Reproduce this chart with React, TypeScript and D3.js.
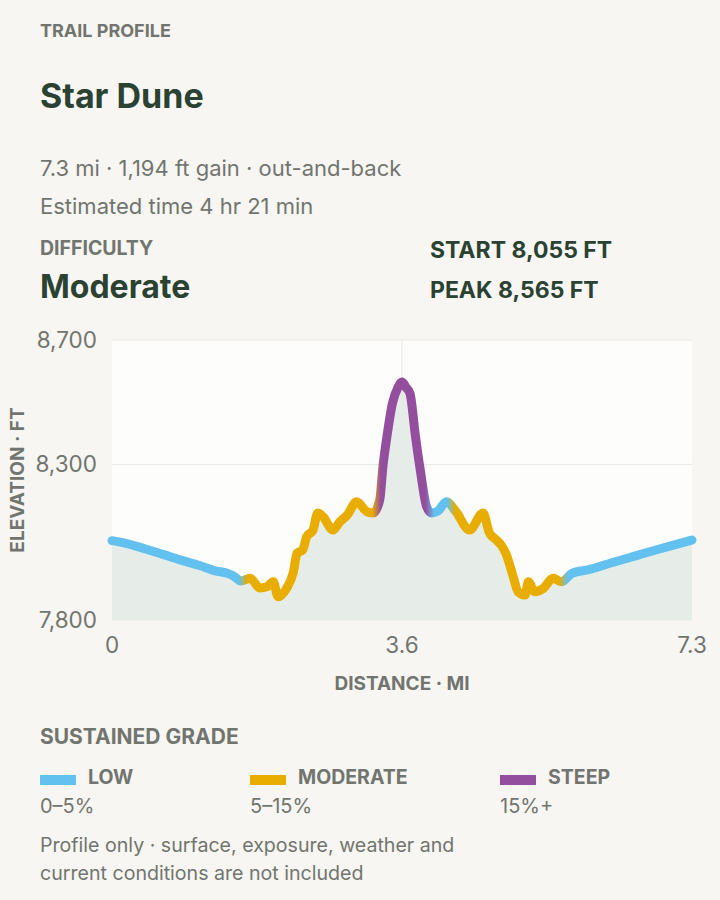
import React from "react";
import * as d3 from "d3";

// ---- data ----
const distanceMi = [
  0.0, 0.15, 0.4, 0.65, 0.9, 1.1, 1.3, 1.45, 1.55, 1.62,
  1.74, 1.86, 1.95, 2.03, 2.09, 2.2, 2.28, 2.33, 2.4, 2.45,
  2.53, 2.59, 2.66, 2.78, 2.87, 2.96, 3.08, 3.21, 3.29, 3.37,
  3.41, 3.46, 3.53, 3.6, 3.65, 3.7, 3.75, 3.82, 3.88, 3.96,
  4.02, 4.1, 4.21, 4.33, 4.5, 4.67, 4.75, 4.84, 4.9, 4.96, 5.05,
  5.11, 5.2, 5.24, 5.32, 5.43, 5.55, 5.66, 5.79, 6.0, 6.3,
  6.6, 6.9, 7.1, 7.3,
];
const elevationFt = [
  8055, 8048, 8030, 8010, 7990, 7975, 7958, 7950, 7938, 7925,
  7934, 7903, 7907, 7923, 7875, 7903, 7951, 8015, 8025, 8067,
  8089, 8144, 8131, 8089, 8116, 8137, 8180, 8148, 8144, 8186,
  8293, 8389, 8497, 8548, 8565, 8548, 8529, 8389, 8282, 8164,
  8144, 8150, 8180, 8148, 8089, 8144, 8080, 8057, 8040, 8012, 7939,
  7891, 7880, 7923, 7891, 7902, 7934, 7923, 7950, 7962, 7985,
  8007, 8029, 8043, 8057,
];
const gradeBreaks = [0, 1.65, 3.33, 4.0, 4.27, 5.68, 7.3];
const gradeClasses = ["low", "moderate", "steep", "low", "moderate", "low"];
const gradeKeys = ["low", "moderate", "steep"];
const gradeLabels = ["LOW", "MODERATE", "STEEP"];
const gradeRanges = ["0–5%", "5–15%", "15%+"];
const gradeColors = ["#62C1EE", "#E9AD00", "#934F9E"];
const yTicks = [7800, 8300, 8700];
const xTicks = [0, 3.65, 7.3];
const xTickLabels = ["0", "3.6", "7.3"];

const FONT = "Inter, 'Noto Sans', sans-serif";
const GREY = "#72756F";
const DARK = "#2B4233";

export default function App() {
  const width = 720;
  const height = 900;
  const x = d3.scaleLinear().domain([0, 7.3]).range([112, 692]);
  const y = d3.scaleLinear().domain([7800, 8700]).range([620, 340]);
  const color = d3.scaleOrdinal<string, string>().domain(gradeKeys).range(gradeColors);

  const pts = distanceMi.map((d, i) => [d, elevationFt[i]] as [number, number]);
  const line = d3
    .line<[number, number]>()
    .x((d) => x(d[0]))
    .y((d) => y(d[1]))
    .curve(d3.curveMonotoneX);
  const area = d3
    .area<[number, number]>()
    .x((d) => x(d[0]))
    .y0(y(7800))
    .y1((d) => y(d[1]))
    .curve(d3.curveMonotoneX);

  // gradient stops
  const blend = 0.055;
  const stops: { off: number; c: string }[] = [];
  gradeClasses.forEach((g, i) => {
    const a = gradeBreaks[i];
    const b = gradeBreaks[i + 1];
    const c = color(g);
    const s = i === 0 ? a : a + blend;
    const e = i === gradeClasses.length - 1 ? b : b - blend;
    stops.push({ off: s / 7.3, c });
    stops.push({ off: e / 7.3, c });
  });

  const legendX = [40, 250, 500];

  return (
    <div style={{ position: "absolute", left: 0, top: 0 }}>
      <svg width={width} height={height} style={{ display: "block" }} fontFamily={FONT}>
        <rect x={0} y={0} width={width} height={height} fill="#F7F6F2" />
        <text x={40} y={37} fontSize={18} fontWeight={700} fill={GREY}>TRAIL PROFILE</text>
        <text x={40} y={108} fontSize={34} fontWeight={700} fill={DARK}>Star Dune</text>
        <text x={40} y={176} fontSize={22} fill={GREY}>7.3 mi · 1,194 ft gain · out-and-back</text>
        <text x={40} y={214} fontSize={22} fill={GREY}>Estimated time 4 hr 21 min</text>
        <text x={40} y={255} fontSize={19.5} fontWeight={700} fill={GREY}>DIFFICULTY</text>
        <text x={40} y={298} fontSize={32} fontWeight={700} fill={DARK}>Moderate</text>
        <text x={430} y={258} fontSize={23} fontWeight={700} fill={DARK}>START 8,055 FT</text>
        <text x={430} y={298} fontSize={23} fontWeight={700} fill={DARK}>PEAK 8,565 FT</text>

        <defs>
          <linearGradient id="gradeGrad" gradientUnits="userSpaceOnUse" x1={x(0)} x2={x(7.3)} y1={0} y2={0}>
            {stops.map((s, i) => (
              <stop key={i} offset={s.off} stopColor={s.c} />
            ))}
          </linearGradient>
        </defs>

        <rect x={x(0)} y={y(8700)} width={x(7.3) - x(0)} height={y(7800) - y(8700)} fill="#FDFDFB" />
        {yTicks.map((t) => (
          <line key={t} x1={x(0)} x2={x(7.3)} y1={y(t)} y2={y(t)} stroke="#E7E7E3" strokeWidth={1} />
        ))}
        <line x1={x(xTicks[1])} x2={x(xTicks[1])} y1={y(8700)} y2={y(7800)} stroke="#E7E7E3" strokeWidth={1} />
        <path d={area(pts) || ""} fill="#E6EDE8" />
        <path
          d={line(pts) || ""}
          fill="none"
          stroke="url(#gradeGrad)"
          strokeWidth={9}
          strokeLinecap="round"
          strokeLinejoin="round"
        />

        {yTicks.map((t) => (
          <text key={t} x={97} y={y(t) + 8} textAnchor="end" fontSize={22.5} fill={GREY}>
            {d3.format(",")(t)}
          </text>
        ))}
        {xTicks.map((t, i) => (
          <text key={t} x={x(t)} y={653} textAnchor="middle" fontSize={22.5} fill={GREY}>
            {xTickLabels[i]}
          </text>
        ))}
        <text x={x(xTicks[1])} y={690} textAnchor="middle" fontSize={19} fontWeight={700} fill={GREY}>
          DISTANCE · MI
        </text>
        <text
          transform={`translate(24, ${(y(8700) + y(7800)) / 2}) rotate(-90)`}
          textAnchor="middle"
          fontSize={19}
          fontWeight={700}
          fill={GREY}
        >
          ELEVATION · FT
        </text>

        <text x={40} y={744} fontSize={21} fontWeight={700} fill={GREY}>SUSTAINED GRADE</text>
        {gradeKeys.map((g, i) => (
          <g key={g}>
            <rect x={legendX[i]} y={775} width={36} height={10} fill={color(g)} />
            <text x={legendX[i] + 48} y={784} fontSize={19.5} fontWeight={700} fill={GREY}>
              {gradeLabels[i]}
            </text>
            <text x={legendX[i]} y={813} fontSize={20} fill={GREY}>
              {gradeRanges[i]}
            </text>
          </g>
        ))}
        <text x={40} y={852} fontSize={19.6} fill={GREY}>Profile only · surface, exposure, weather and</text>
        <text x={40} y={880} fontSize={19.6} fill={GREY}>current conditions are not included</text>
      </svg>
    </div>
  );
}
